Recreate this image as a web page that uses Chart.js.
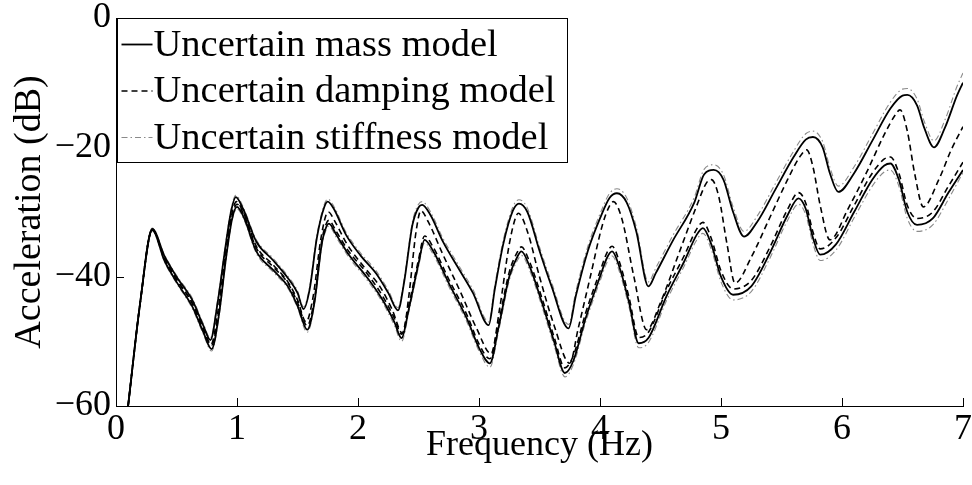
<!DOCTYPE html>
<html lang="en">
<head>
<meta charset="UTF-8">
<title>Acceleration vs Frequency</title>
<style>
    html, body { margin: 0; padding: 0; background: #fff; }
    .myChart { width: 972px; height: 485px; }
</style>
</head>
<body>
<div class="myChart">
    <canvas id="myChart" width="972" height="485"></canvas>
</div>

<script src="https://cdn.jsdelivr.net/npm/chart.js"></script>
<script>
    // frequency (Hz) of the upper envelope points
    const xUpper = [0.1, 0.2, 0.3, 0.4, 0.5, 0.63, 0.72, 0.78, 0.84, 0.9,
        0.95, 0.99, 1.05, 1.16, 1.3, 1.42, 1.5, 1.55, 1.6, 1.66,
        1.72, 1.75, 1.8, 1.9, 2.02, 2.15, 2.25, 2.33, 2.38, 2.45,
        2.5, 2.53, 2.6, 2.7, 2.84, 2.95, 3.08, 3.13, 3.2, 3.28,
        3.33, 3.4, 3.5, 3.6, 3.74, 3.8, 3.9, 4.0, 4.08, 4.14,
        4.22, 4.3, 4.4, 4.46, 4.6, 4.78, 4.86, 4.94, 5.02, 5.1,
        5.19, 5.3, 5.45, 5.6, 5.7, 5.76, 5.84, 5.9, 5.97, 6.1,
        6.25, 6.4, 6.5, 6.54, 6.62, 6.68, 6.76, 6.85, 6.95, 7.0];
    const massUpper = [-60, -44, -32.6, -36.8, -40, -43.6, -47.5, -49.8, -44, -36,
        -30, -27.7, -29.5, -34.6, -37.5, -40.2, -42.5, -45, -42, -34,
        -29.3, -28.4, -29.5, -33.5, -36.7, -39.5, -42.5, -45.2, -41, -32,
        -29.3, -28.9, -30.5, -34.5, -39, -42.5, -47.5, -42, -35, -29.8,
        -28.7, -30, -36, -41.5, -48, -43, -36, -31, -27.8, -27.1,
        -28.5, -33, -41.5, -39.5, -34.5, -28.5, -24.2, -23.5, -25, -30,
        -33.8, -31.5, -26.5, -21.5, -18.8, -18.4, -20, -24, -26.9, -24,
        -19, -14, -12, -11.9, -13.5, -17, -20, -17, -12, -10];
    const stiffUpper = [-60, -44, -32.5, -36.6, -39.8, -43.3, -47.2, -49.5, -43.6, -35.6,
        -29.7, -27.4, -29.2, -34.3, -37.2, -39.9, -42.2, -44.7, -41.6, -33.6,
        -28.9, -28, -29.1, -33.1, -36.3, -39.1, -42.1, -44.8, -40.5, -31.5,
        -28.8, -28.4, -30, -34, -38.5, -42, -47, -41.4, -34.4, -29.2,
        -28.1, -29.4, -35.4, -40.9, -47.4, -42.3, -35.3, -30.3, -27.1, -26.4,
        -27.8, -32.3, -40.8, -38.7, -33.7, -27.7, -23.4, -22.7, -24.2, -29.2,
        -33, -30.6, -25.6, -20.6, -17.9, -17.5, -19.1, -23.1, -26, -23,
        -18, -13, -11, -10.9, -12.5, -16, -19, -15.8, -10.6, -8.5];

    // frequency (Hz) of the lower envelope points
    const xLower = [0.1, 0.2, 0.3, 0.4, 0.5, 0.63, 0.72, 0.79, 0.85, 0.91,
        0.96, 1.0, 1.06, 1.16, 1.3, 1.42, 1.5, 1.58, 1.64, 1.7,
        1.74, 1.76, 1.82, 1.92, 2.07, 2.2, 2.3, 2.36, 2.42, 2.5,
        2.55, 2.62, 2.75, 2.9, 3.0, 3.09, 3.16, 3.25, 3.32, 3.35,
        3.42, 3.52, 3.62, 3.71, 3.78, 3.88, 4.0, 4.06, 4.1, 4.16,
        4.24, 4.32, 4.4, 4.55, 4.7, 4.8, 4.85, 4.92, 5.0, 5.1,
        5.25, 5.4, 5.55, 5.64, 5.7, 5.76, 5.82, 5.95, 6.1, 6.25,
        6.35, 6.4, 6.47, 6.54, 6.62, 6.75, 6.88, 7.0];
    const massLower = [-60, -44, -32.8, -37.5, -40.8, -44.6, -48.5, -51.2, -46, -37,
        -31, -29.2, -31, -36.1, -39, -41.5, -44.5, -48.2, -44, -35,
        -32.2, -31.8, -33.5, -36.5, -40, -43.5, -47, -49.5, -45, -38,
        -34.3, -36, -41, -46.5, -51, -53.4, -48, -40, -36.8, -36.1,
        -38.5, -44, -50, -54.9, -53, -46.5, -40, -37, -36.1, -38.5,
        -44, -50.3, -49.5, -43, -37.5, -33.5, -32.5, -35, -40, -42.8,
        -41.5, -36.5, -30.5, -27.9, -29.5, -34, -36.6, -35, -30, -25,
        -22.8, -22.5, -25, -30, -32, -31, -27, -23.5];
    const stiffLower = [-60, -44, -32.9, -37.7, -41, -44.9, -48.8, -51.5, -46.3, -37.3,
        -31.3, -29.5, -31.3, -36.4, -39.3, -41.8, -44.8, -48.6, -44.4, -35.4,
        -32.6, -32.2, -33.9, -36.9, -40.4, -43.9, -47.5, -50, -45.5, -38.5,
        -34.8, -36.5, -41.5, -47, -51.5, -54, -48.6, -40.6, -37.4, -36.7,
        -39.1, -44.6, -50.6, -55.5, -53.6, -47.1, -40.7, -37.7, -36.8, -39.2,
        -44.7, -51, -50.2, -43.7, -38.2, -34.3, -33.3, -35.8, -40.8, -43.6,
        -42.3, -37.3, -31.3, -28.8, -30.4, -34.9, -37.5, -35.9, -30.9, -26,
        -23.8, -23.5, -26, -31, -33, -32, -28, -23.9];
    const dampLower = [-60, -44, -32.7, -37.2, -40.4, -44.1, -48, -50.6, -45.4, -36.5,
        -30.6, -28.8, -30.6, -35.6, -38.5, -41, -44, -47.6, -43.4, -34.5,
        -31.7, -31.3, -33, -36, -39.4, -42.9, -46.4, -48.9, -44.4, -37.4,
        -33.7, -35.4, -40.4, -45.9, -50.4, -52.7, -47.3, -39.3, -36.1, -35.4,
        -37.8, -43.3, -49.3, -54.1, -52.2, -45.7, -39.2, -36.2, -35.3, -37.7,
        -43.2, -49.4, -48.6, -42.1, -36.6, -32.6, -31.6, -34.1, -39.1, -41.9,
        -40.6, -35.6, -29.6, -27, -28.6, -33.1, -35.7, -34, -29, -24,
        -21.8, -21.5, -24, -29, -31, -30, -26, -22.3];

    // damping model upper bound (crosses the band)
    const xDamp = [0.1, 0.2, 0.3, 0.4, 0.5, 0.63, 0.72, 0.785, 0.845, 0.905,
        0.955, 0.995, 1.055, 1.16, 1.3, 1.42, 1.5, 1.57, 1.63, 1.69,
        1.735, 1.755, 1.81, 1.91, 2.05, 2.18, 2.28, 2.37, 2.42, 2.48,
        2.52, 2.58, 2.7, 2.85, 2.98, 3.1, 3.17, 3.25, 3.3, 3.325,
        3.4, 3.5, 3.62, 3.75, 3.82, 3.92, 4.02, 4.08, 4.11, 4.18,
        4.28, 4.386, 4.5, 4.65, 4.8, 4.88, 4.92, 4.98, 5.05, 5.116,
        5.25, 5.4, 5.55, 5.65, 5.708, 5.76, 5.82, 5.9, 6.05, 6.2,
        6.35, 6.44, 6.479, 6.54, 6.6, 6.672, 6.8, 6.9, 7.0];
    const dampUpper = [-60, -44, -32.7, -37.1, -40.4, -44.1, -48, -50.5, -45, -36.5,
        -30.5, -28.4, -30.2, -35.3, -38.2, -40.8, -43.6, -47, -43, -34.5,
        -30.5, -30, -31.5, -35, -38.5, -41.5, -45, -48.8, -43, -33,
        -29.8, -31.5, -36.5, -42.5, -48, -51.9, -45, -35, -31, -30.2,
        -33, -40, -47.5, -53.4, -48, -40, -32, -29, -28.4, -31,
        -40, -48.2, -44, -36.5, -29, -25.5, -25, -27.5, -35, -41,
        -37, -31, -25, -21.5, -20.4, -23, -29, -34.3, -29.5, -24,
        -18, -15, -14.2, -17.5, -24, -29.2, -25, -20.5, -16.8];

    const legendLabels = ['Uncertain mass model', 'Uncertain damping model', 'Uncertain stiffness model'];
    const xTitle = 'Frequency (Hz)';
    const yTitle = 'Acceleration (dB)';

    const FONT = '"Liberation Serif", "Times New Roman", serif';

    function toPoints(xs, ys) {
        return xs.map(function (x, i) { return { x: x, y: ys[i] }; });
    }

    const solid = { color: '#000', width: 1.8, dash: [] };
    const dashed = { color: '#000', width: 1.6, dash: [6, 4] };
    const dashDot = { color: '#8a8a8a', width: 1.1, dash: [6, 3, 1.5, 3] };

    function line(label, pts, st, order) {
        return {
            label: label,
            data: pts,
            showLine: true,
            borderColor: st.color,
            borderWidth: st.width,
            borderDash: st.dash,
            pointRadius: 0,
            fill: false,
            cubicInterpolationMode: 'monotone',
            order: order
        };
    }

    // inward tick marks, matlab style
    const innerTicks = {
        id: 'innerTicks',
        afterDatasetsDraw(chart) {
            const ctx = chart.ctx;
            const xs = chart.scales.x, ys = chart.scales.y;
            ctx.save();
            ctx.strokeStyle = '#000';
            ctx.lineWidth = 1;
            ctx.beginPath();
            xs.ticks.forEach(function (t) {
                const px = Math.round(xs.getPixelForValue(t.value)) + 0.5;
                ctx.moveTo(px, ys.bottom);
                ctx.lineTo(px, ys.bottom - 8);
            });
            ys.ticks.forEach(function (t) {
                const py = Math.round(ys.getPixelForValue(t.value)) + 0.5;
                ctx.moveTo(xs.left, py);
                ctx.lineTo(xs.left + 8, py);
            });
            ctx.stroke();
            ctx.restore();
        }
    };

    // boxed legend in the top-left corner
    const boxLegend = {
        id: 'boxLegend',
        afterDatasetsDraw(chart) {
            const ctx = chart.ctx;
            const area = chart.chartArea;
            const styles = [solid, dashed, dashDot];
            const x0 = area.left + 1.5, y0 = area.top + 0.5;
            const w = 450, h = 144;
            ctx.save();
            ctx.fillStyle = '#fff';
            ctx.fillRect(x0, y0, w, h);
            ctx.strokeStyle = '#000';
            ctx.lineWidth = 1;
            ctx.setLineDash([]);
            ctx.strokeRect(x0, y0, w, h);
            ctx.font = '38.5px ' + FONT;
            ctx.textBaseline = 'middle';
            ctx.fillStyle = '#000';
            legendLabels.forEach(function (txt, i) {
                const cy = y0 + 26 + i * 46.5;
                ctx.beginPath();
                ctx.strokeStyle = styles[i].color;
                ctx.lineWidth = styles[i].width;
                ctx.setLineDash(styles[i].dash);
                ctx.moveTo(x0 + 4, cy);
                ctx.lineTo(x0 + 35, cy);
                ctx.stroke();
                ctx.setLineDash([]);
                ctx.fillText(txt, x0 + 36, cy + 1);
            });
            ctx.restore();
        }
    };

    const ctx = document.getElementById('myChart').getContext('2d');
    const myChart = new Chart(ctx, {
        type: 'scatter',
        data: {
            datasets: [
                line('Uncertain stiffness model', toPoints(xUpper, stiffUpper), dashDot, 3),
                line('stiffness lower', toPoints(xLower, stiffLower), dashDot, 3),
                line('Uncertain damping model', toPoints(xDamp, dampUpper), dashed, 2),
                line('damping lower', toPoints(xLower, dampLower), dashed, 2),
                line('Uncertain mass model', toPoints(xUpper, massUpper), solid, 1),
                line('mass lower', toPoints(xLower, massLower), solid, 1)
            ]
        },
        options: {
            responsive: false,
            animation: false,
            layout: { padding: { left: 0, top: 18, right: 9, bottom: 0 } },
            plugins: {
                legend: { display: false },
                tooltip: { enabled: false }
            },
            scales: {
                x: {
                    type: 'linear',
                    min: 0,
                    max: 7,
                    grid: { display: false, drawTicks: false },
                    border: { display: true, color: '#000', width: 1 },
                    ticks: {
                        stepSize: 1,
                        padding: 2,
                        color: '#000',
                        font: { family: FONT, size: 36 }
                    },
                    title: {
                        display: true,
                        text: xTitle,
                        color: '#000',
                        font: { family: FONT, size: 36 },
                        padding: { top: 0, bottom: 18 }
                    },
                    afterFit: function (scale) {
                        scale.height = 79;
                        scale.paddingLeft = 0;
                        scale.paddingRight = 0;
                    }
                },
                y: {
                    min: -60,
                    max: 0,
                    grid: { display: false, drawTicks: false },
                    border: { display: true, color: '#000', width: 1 },
                    ticks: {
                        stepSize: 20,
                        padding: 5,
                        color: '#000',
                        font: { family: FONT, size: 36 },
                        callback: function (v) { return v < 0 ? '\u2212' + Math.abs(v) : String(v); }
                    },
                    title: {
                        display: true,
                        text: yTitle,
                        color: '#000',
                        font: { family: FONT, size: 38 },
                        padding: { top: 7, bottom: 0 }
                    },
                    afterFit: function (scale) {
                        scale.width = 116;
                        scale.paddingTop = 0;
                        scale.paddingBottom = 0;
                    }
                }
            }
        },
        plugins: [innerTicks, boxLegend]
    });
</script>
</body>
</html>
